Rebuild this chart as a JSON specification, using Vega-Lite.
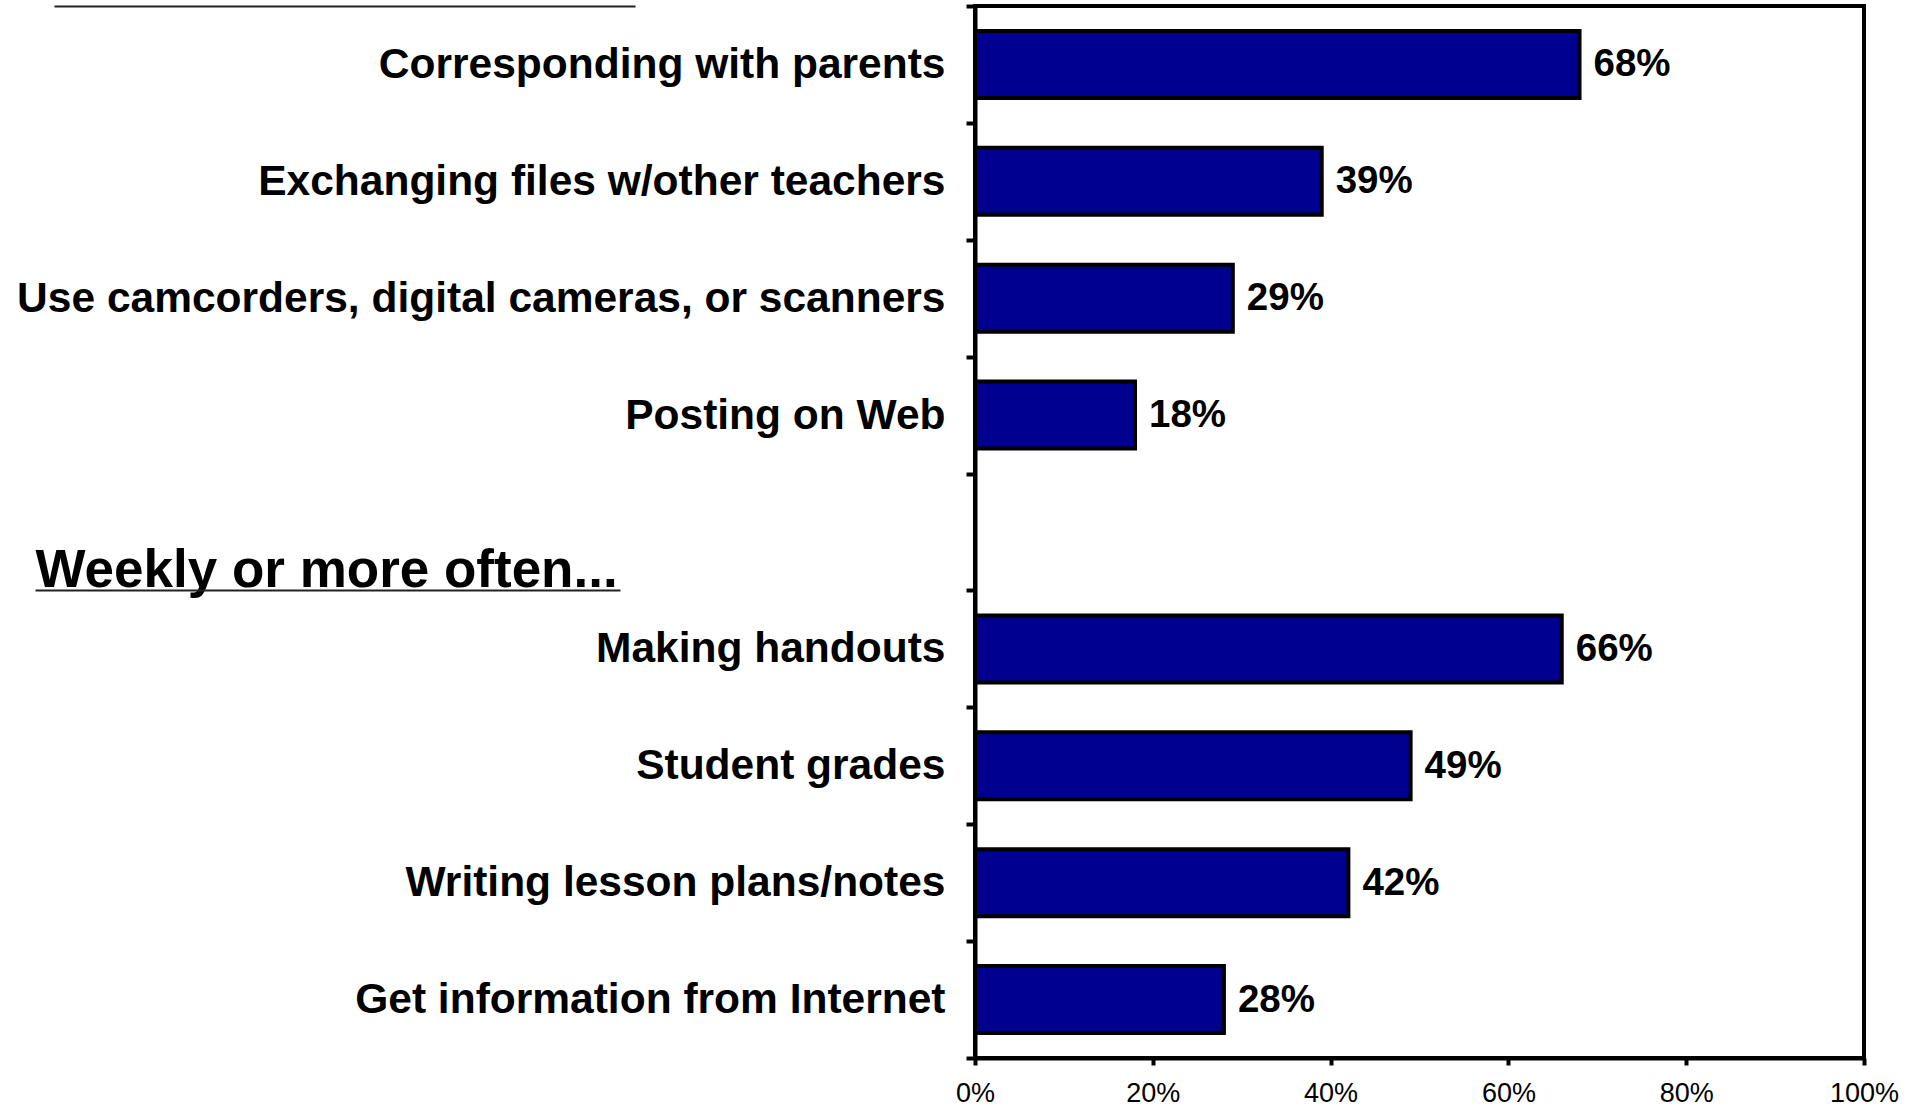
{
  "$schema": "https://vega.github.io/schema/vega-lite/v6.json",
  "autosize": "none",
  "padding": {"left": 975, "top": 6, "right": 55, "bottom": 49},
  "width": 889,
  "height": 1052,
  "background": "white",
  "data": {
    "values": [
      {"item": "Corresponding with parents", "pct": 0.68},
      {"item": "Exchanging files w/other teachers", "pct": 0.39},
      {"item": "Use camcorders, digital cameras, or scanners", "pct": 0.29},
      {"item": "Posting on Web", "pct": 0.18},
      {"item": "Making handouts", "pct": 0.66},
      {"item": "Student grades", "pct": 0.49},
      {"item": "Writing lesson plans/notes", "pct": 0.42},
      {"item": "Get information from Internet", "pct": 0.28}
    ]
  },
  "layer": [
    {
      "mark": {"type": "bar", "color": "#000090", "stroke": "black", "strokeWidth": 4, "height": {"band": 0.573}},
      "encoding": {
        "y": {
          "field": "item",
          "type": "nominal",
          "sort": null,
          "scale": {
            "domain": [
              "Corresponding with parents",
              "Exchanging files w/other teachers",
              "Use camcorders, digital cameras, or scanners",
              "Posting on Web",
              "Weekly or more often...",
              "Making handouts",
              "Student grades",
              "Writing lesson plans/notes",
              "Get information from Internet"
            ],
            "paddingInner": 0,
            "paddingOuter": 0
          },
          "axis": {
            "orient": "left",
            "title": null,
            "tickBand": "extent",
            "tickSize": 9,
            "tickWidth": 4,
            "tickColor": "black",
            "domainColor": "black",
            "domainWidth": 4,
            "grid": false,
            "labelFont": "Liberation Sans",
            "labelFontWeight": "bold",
            "labelColor": "black",
            "labelLimit": 0,
            "labelFontSize": {"condition": {"test": "datum.value === 'Weekly or more often...'", "value": 53}, "value": 42.5},
            "labelAlign": {"condition": {"test": "datum.value === 'Weekly or more often...'", "value": "left"}, "value": "right"},
            "labelPadding": {"condition": {"test": "datum.value === 'Weekly or more often...'", "value": 931}, "value": 21},
            "labelOffset": {"condition": {"test": "datum.value === 'Weekly or more often...'", "value": 38}, "value": 0}
          }
        },
        "x": {
          "field": "pct",
          "type": "quantitative",
          "scale": {"domain": [0, 1]},
          "axis": {
            "title": null,
            "values": [0, 0.2, 0.4, 0.6, 0.8, 1],
            "format": ".0%",
            "grid": false,
            "tickSize": 7,
            "tickWidth": 4,
            "tickColor": "black",
            "domainColor": "black",
            "domainWidth": 4,
            "labelFont": "Liberation Sans",
            "labelFontSize": 27,
            "labelColor": "black",
            "labelPadding": 15,
            "labelFlush": false
          }
        }
      }
    },
    {
      "mark": {"type": "text", "align": "left", "baseline": "middle", "dx": 14, "font": "Liberation Sans", "fontWeight": "bold", "fontSize": 38.5, "color": "black"},
      "encoding": {
        "y": {
          "field": "item",
          "type": "nominal",
          "sort": null,
          "axis": {
            "orient": "left",
            "title": null,
            "values": ["Corresponding with parents", "Making handouts"],
            "bandPosition": 0,
            "labels": false,
            "domain": false,
            "grid": false,
            "tickSize": 940,
            "tickWidth": 2,
            "tickColor": "#222222",
            "tickDash": {"condition": {"test": "datum.value === 'Corresponding with parents'", "value": [0, 340, 581, 2000]}, "value": [0, 355, 585, 2000]}
          }
        },
        "x": {"field": "pct", "type": "quantitative"},
        "text": {"field": "pct", "format": ".0%"}
      }
    }
  ],
  "resolve": {"axis": {"y": "independent"}},
  "config": {
    "view": {"stroke": "black", "strokeWidth": 4}
  }
}
